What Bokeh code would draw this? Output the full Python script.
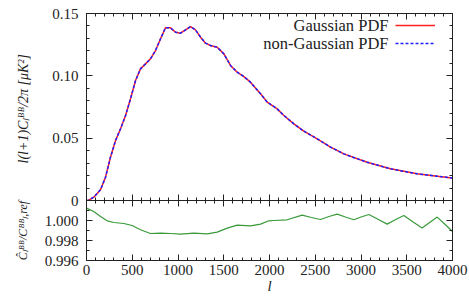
from bokeh.plotting import figure
from bokeh.layouts import column
from bokeh.models import (Range1d, FixedTicker, LinearAxis, Legend, LegendItem,
                          Label, PrintfTickFormatter)
from bokeh.embed import file_html
from bokeh.resources import INLINE

# ---- data ----
ell = [0, 25, 80, 153, 208, 262, 317, 372, 426, 481, 536, 590, 645, 699, 754,
       809, 863, 918, 973, 1027, 1082, 1137, 1191, 1246, 1301, 1355, 1428,
       1501, 1574, 1647, 1720, 1792, 1902, 1975, 2084, 2157, 2266, 2375, 2521,
       2667, 2812, 3067, 3322, 3614, 3833, 4000]
cl_gauss = [0.0, 0.0003, 0.0027, 0.0086, 0.0187, 0.0347, 0.048, 0.0575, 0.068,
            0.0816, 0.0962, 0.1056, 0.1096, 0.1136, 0.1203, 0.1297, 0.1385,
            0.1385, 0.135, 0.1342, 0.1369, 0.1395, 0.1369, 0.131, 0.1262,
            0.1243, 0.123, 0.1176, 0.1083, 0.1029, 0.0994, 0.0949, 0.0856,
            0.0789, 0.0735, 0.0682, 0.0615, 0.0556, 0.0495, 0.0428, 0.0374,
            0.0307, 0.0254, 0.0214, 0.0195, 0.0180]
cl_nongauss = list(cl_gauss)

ell_r = [0, 80, 153, 226, 299, 408, 499, 590, 699, 809, 918, 1027, 1173, 1319,
         1428, 1538, 1647, 1792, 1902, 1993, 2047, 2193, 2357, 2457, 2557, 2650,
         2740, 2830, 2922, 3000, 3086, 3190, 3286, 3380, 3468, 3570, 3668, 3750,
         3833, 3920, 4000]
ratio = [1.00124, 1.0009, 1.0004, 0.99997, 0.9998, 0.9997, 0.9995, 0.99907,
         0.9987, 0.99874, 0.9987, 0.99864, 0.99874, 0.99867, 0.99884, 0.99924,
         0.99954, 0.99947, 0.99964, 0.99997, 1.0000, 1.00007, 1.00054, 1.0003,
         1.0001, 1.0004, 1.00064, 1.00035, 1.00007, 1.00035, 1.0006, 1.0001,
         0.99964, 1.0001, 1.0005, 0.99985, 0.99924, 0.9998, 1.00034, 0.9996,
         0.9989]

x_ticks = [0, 500, 1000, 1500, 2000, 2500, 3000, 3500, 4000]
x_minor = list(range(0, 4001, 100))
top_ticks = [0, 0.05, 0.10, 0.15]
top_minor = [i / 100 for i in range(0, 16)]
bot_ticks = [0.996, 0.998, 1.000]
bot_minor = [0.996, 0.997, 0.998, 0.999, 1.000, 1.001, 1.002]
legend_labels = ["Gaussian PDF", "non-Gaussian PDF"]

FONT = "Liberation Serif"
AX = "#222222"
RED = "#ff2020"
BLUE = "#2020ff"
GREEN = "#3a9a3a"

xr = Range1d(0, 4000)


def style_axis(ax):
    ax.axis_line_color = AX
    ax.major_tick_line_color = AX
    ax.minor_tick_line_color = AX
    ax.major_tick_in = 6
    ax.major_tick_out = 0
    ax.minor_tick_in = 3
    ax.minor_tick_out = 0
    ax.major_label_text_font = FONT
    ax.major_label_text_font_size = "15px"
    ax.major_label_text_color = AX
    ax.axis_label_text_font = FONT
    ax.axis_label_text_color = AX
    ax.axis_label_text_font_style = "italic"


def mirror(p, side, major, minor):
    # label-free tick rows: minor ticks short, major positions longer
    for ticks, length in [(minor, 3), (major, 6)]:
        ax = LinearAxis(ticker=FixedTicker(ticks=[], minor_ticks=ticks))
        ax.axis_line_color = AX
        ax.minor_tick_line_color = AX
        ax.minor_tick_in = length
        ax.minor_tick_out = 0
        ax.major_tick_in = 0
        ax.major_tick_out = 0
        ax.major_label_standoff = 0
        p.add_layout(ax, side)


# ---- top panel ----
p1 = figure(frame_width=366, frame_height=187, x_range=xr,
            y_range=Range1d(0, 0.15), output_backend="svg",
            toolbar_location=None, x_axis_location=None, y_axis_location=None,
            min_border_left=86, min_border_right=17, min_border_top=13,
            min_border_bottom=7)
p1.outline_line_color = None
p1.grid.visible = False

yl = LinearAxis(ticker=FixedTicker(ticks=top_ticks, minor_ticks=top_minor),
                formatter=PrintfTickFormatter(format="%.2f"),
                major_label_overrides={0: "0"})
style_axis(yl)
yl.major_label_standoff = 8
yl.axis_label = "l(l+1)Cₗᴮᴮ/2π  [μK²]"
yl.axis_label_text_font_size = "14px"
yl.axis_label_standoff = 18
p1.add_layout(yl, "left")
mirror(p1, "right", top_ticks, top_minor)
mirror(p1, "above", x_ticks, x_minor)
mirror(p1, "below", x_ticks, x_minor)

r_g = p1.line(ell, cl_gauss, line_color=RED, line_width=1.5)
r_ng = p1.line(ell, cl_nongauss, line_color=BLUE, line_width=1.5,
               line_dash="3 2")

# legend: sample lines only; the texts sit to their left, right-aligned
leg = Legend(items=[LegendItem(label=" ", renderers=[r_g]),
                    LegendItem(label=" ", renderers=[r_ng])],
             location=(309, 148), glyph_width=40, glyph_height=18,
             label_width=0, label_height=18, label_standoff=0, spacing=0,
             padding=0, margin=0, border_line_color=None,
             background_fill_alpha=0, label_text_font_size="8px")
p1.add_layout(leg)
for txt, yy in zip(legend_labels, [175, 157]):
    p1.add_layout(Label(x=302, y=yy, x_units="screen", y_units="screen",
                        text=txt, text_align="right", text_baseline="middle",
                        text_font=FONT, text_font_size="16.5px",
                        text_color=AX))

# ---- bottom panel ----
TOPB = 15
p2 = figure(frame_width=366, frame_height=60, x_range=xr,
            y_range=Range1d(0.996, 1.002), output_backend="svg",
            toolbar_location=None, x_axis_location=None, y_axis_location=None,
            min_border_left=86, min_border_right=17, min_border_top=TOPB,
            min_border_bottom=40)
p2.outline_line_color = None
p2.grid.visible = False
p2.background_fill_alpha = 0
p2.border_fill_alpha = 0
p2.styles = {"margin-top": "-%dpx" % (7 + TOPB)}

yl2 = LinearAxis(ticker=FixedTicker(ticks=bot_ticks, minor_ticks=bot_minor),
                 formatter=PrintfTickFormatter(format="%.3f"))
style_axis(yl2)
yl2.major_label_standoff = 8
yl2.axis_label = "Ĉₗᴮᴮ/Cᴮᴮₗ,ref"
yl2.axis_label_text_font_size = "12px"
yl2.axis_label_standoff = 12
p2.add_layout(yl2, "left")
mirror(p2, "right", bot_ticks, bot_minor)
mirror(p2, "above", x_ticks, x_minor)
xb2 = LinearAxis(ticker=FixedTicker(ticks=x_ticks, minor_ticks=x_minor))
style_axis(xb2)
xb2.major_label_standoff = 4
xb2.axis_label = "l"
xb2.axis_label_text_font_size = "15px"
xb2.axis_label_standoff = 0
p2.add_layout(xb2, "below")

p2.line(ell_r, ratio, line_color=GREEN, line_width=1.2)

layout = column(p1, p2, spacing=0)
open("out.html", "w").write(file_html(layout, INLINE))
